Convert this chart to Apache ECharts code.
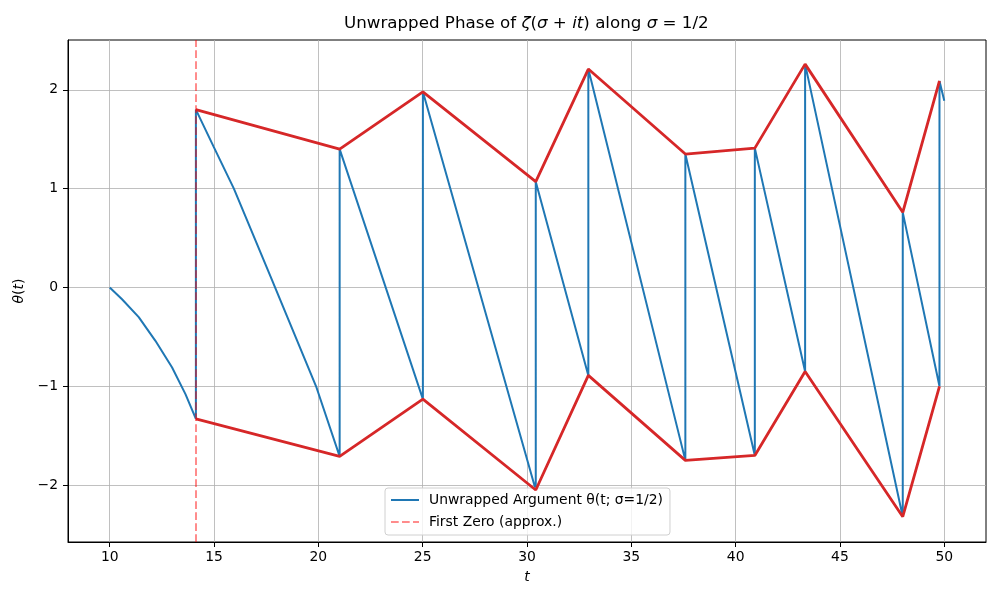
<!DOCTYPE html>
<html>
<head>
<meta charset="utf-8">
<script src="https://cdn.jsdelivr.net/npm/echarts@6/dist/echarts.min.js"></script>
<style>
  html, body { margin: 0; padding: 0; background: #fff; }
  #main { width: 1000px; height: 600px; }
</style>
</head>
<body>
<div id="main"></div>
<script>
// zeros of zeta on the critical line (approx.) where the phase jumps
var zerosT = [14.13, 21.02, 25.01, 30.42, 32.94, 37.59, 40.92, 43.33, 48.01, 49.77];
// phase just before / just after each jump
var thetaBefore = [-1.33, -1.71, -1.13, -2.05, -0.89, -1.75, -1.70, -0.85, -2.32, -1.00];
var thetaAfter = [1.80, 1.40, 1.98, 1.07, 2.21, 1.35, 1.41, 2.26, 0.76, 2.09];
// curved start of the phase before the first zero
var leadT = [10, 10.59, 11.39, 12.19, 12.99, 13.63];
var leadTheta = [0, -0.12, -0.30, -0.54, -0.81, -1.08];
// bent points between the first and second zero
var bendT = [14.99, 15.95, 17.79, 19.89];
var bendTheta = [1.42, 1.0, 0.07, -1.0];
// last sample
var tailT = [50];
var tailTheta = [1.89];

var xTicks = [10, 15, 20, 25, 30, 35, 40, 45, 50];
var yTicks = [-2, -1, 0, 1, 2];
var firstZero = 14.13;

// build the unwrapped phase curve
var phase = [];
leadT.forEach(function (t, i) { phase.push([t, leadTheta[i]]); });
zerosT.forEach(function (t, i) {
    phase.push([t, thetaBefore[i]]);
    phase.push([t, thetaAfter[i]]);
    if (i === 0) {
        bendT.forEach(function (b, j) { phase.push([b, bendTheta[j]]); });
    }
});
tailT.forEach(function (t, i) { phase.push([t, tailTheta[i]]); });

var upper = zerosT.map(function (t, i) { return [t, thetaAfter[i]]; });
var lower = zerosT.map(function (t, i) { return [t, thetaBefore[i]]; });

var FONT = 'DejaVu Sans';
var PINK = 'rgba(255,0,0,0.45)';
function fmt(v) { return String(v).replace('-', '\u2212'); }

var myChart = echarts.init(document.getElementById('main'));
myChart.setOption({
    animation: false,
    backgroundColor: '#fff',
    textStyle: { fontFamily: FONT },
    title: {
        text: '{n|Unwrapped Phase of }{i|ζ}{n|(}{i|σ}{n| + }{i|it}{n|) along }{i|σ}{n| = 1/2}',
        left: 344,
        top: 15,
        padding: 0,
        textStyle: {
            fontWeight: 'normal',
            rich: {
                n: { fontFamily: FONT, fontSize: 16.7, fontWeight: 'normal', color: '#000' },
                i: { fontFamily: FONT, fontSize: 16.7, fontWeight: 'normal', fontStyle: 'italic', color: '#000' }
            }
        }
    },
    grid: {
        left: 68, right: 14, top: 40, bottom: 58,
        show: true, borderColor: '#000', borderWidth: 1
    },
    legend: {
        orient: 'vertical',
        left: 385,
        top: 488,
        padding: [5, 7, 6, 5],
        itemGap: 8,
        itemWidth: 28,
        itemHeight: 14,
        backgroundColor: 'rgba(255,255,255,0.8)',
        borderColor: '#d0d0d0',
        borderWidth: 1,
        borderRadius: 3,
        itemStyle: { opacity: 0 },
        textStyle: { fontFamily: FONT, fontSize: 13.9, color: '#000', padding: [0, 0, 0, 5] },
        data: ['Unwrapped Argument θ(t; σ=1/2)', 'First Zero (approx.)']
    },
    xAxis: {
        type: 'value',
        min: 8,
        max: 52,
        splitNumber: 9,
        name: 't',
        nameLocation: 'middle',
        nameGap: 28,
        nameTextStyle: { fontFamily: FONT, fontSize: 13.9, fontStyle: 'italic', color: '#000' },
        axisLine: { show: true, onZero: false, lineStyle: { color: '#000', width: 1 } },
        axisTick: { show: true, length: 5, lineStyle: { color: '#000' }, customValues: xTicks },
        axisLabel: {
            margin: 8, fontSize: 13.9, color: '#000', fontFamily: FONT,
            customValues: xTicks, formatter: fmt
        },
        splitLine: { show: true, lineStyle: { color: '#b0b0b0', width: 0.8 } }
    },
    yAxis: {
        type: 'value',
        min: -2.576,
        max: 2.504,
        splitNumber: 5,
        name: '{i|θ}{n|(}{i|t}{n|)}',
        nameLocation: 'middle',
        nameGap: 34,
        nameRotate: 90,
        nameTextStyle: {
            rich: {
                n: { fontFamily: FONT, fontSize: 13.9, color: '#000' },
                i: { fontFamily: FONT, fontSize: 13.9, fontStyle: 'italic', color: '#000' }
            }
        },
        axisLine: { show: true, onZero: false, lineStyle: { color: '#000', width: 1 } },
        axisTick: { show: true, length: 5, lineStyle: { color: '#000' }, customValues: yTicks },
        axisLabel: {
            margin: 10, fontSize: 13.9, color: '#000', fontFamily: FONT,
            customValues: yTicks, formatter: fmt
        },
        splitLine: { show: true, lineStyle: { color: '#b0b0b0', width: 0.8 } }
    },
    series: [
        {
            name: 'Unwrapped Argument θ(t; σ=1/2)',
            type: 'line',
            data: phase,
            symbol: 'none',
            lineStyle: { color: '#1f77b4', width: 2 },
            itemStyle: { color: '#1f77b4' },
            z: 2
        },
        {
            name: 'First Zero (approx.)',
            type: 'line',
            data: [],
            symbol: 'none',
            lineStyle: { color: PINK, width: 2, type: [7.7, 3.3] },
            itemStyle: { color: PINK },
            markLine: {
                silent: true,
                symbol: ['none', 'none'],
                label: { show: false },
                lineStyle: { color: PINK, width: 2, type: [7.7, 3.3] },
                data: [{ xAxis: firstZero }]
            },
            z: 3
        },
        {
            name: 'upper',
            type: 'line',
            data: upper,
            symbol: 'none',
            lineStyle: { color: '#d62728', width: 2.8 },
            z: 4
        },
        {
            name: 'lower',
            type: 'line',
            data: lower,
            symbol: 'none',
            lineStyle: { color: '#d62728', width: 2.8 },
            z: 4
        }
    ]
});
</script>
</body>
</html>
